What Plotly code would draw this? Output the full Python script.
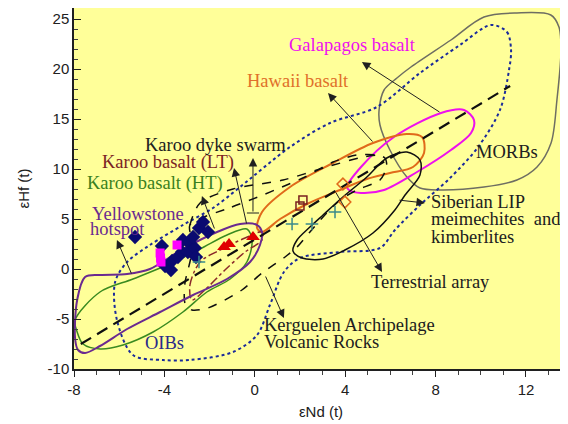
import plotly.graph_objects as go

# ---------------- data (εNd, εHf) ----------------
terr_x = [-7.7, 11.3]
terr_y = [-7.5, 18.3]

oib_x = [10.45, 11.16, 11.34, 11.25, 10.85, 9.88, 8.64, 7.31, 6.20, 5.54, 3.77, 2.0, 1.29, 0.67, 0.1,
         -0.96, -2.87, -4.06, -5.39, -6.1, -6.18, -5.65, -4.64, -3.18, -1.85, -0.65, 1.56, 3.33, 5.4,
         7.31, 9.08, 10.45]
oib_y = [24.4, 23.7, 21.9, 19.9, 15.9, 12.2, 9.1, 6.4, 3.9, 2.1, 1.7, 1.1, -0.3, -3.6, -6.6,
         -8.3, -9.1, -9.1, -8.6, -5.1, -1.3, 0.7, 2.4, 4.4, 6.1, 8.2, 12.2, 14.6, 16.2,
         19.6, 22.4, 24.4]

morb_x = [5.50, 5.72, 6.29, 6.91, 8.68, 10.14, 11.6, 13.1, 13.46, 13.55, 13.37, 13.11, 12.49, 11.6,
          10.14, 8.19, 7.31, 6.73, 5.98, 5.54, 5.50]
morb_y = [15.9, 17.9, 19.1, 20.2, 22.9, 25.2, 25.6, 25.4, 24.2, 21.9, 16.9, 12.6, 10.2, 8.9,
          8.2, 7.9, 8.1, 9.2, 11.9, 14.4, 15.9]

gal_x = [4.08, 4.70, 6.16, 8.24, 9.26, 9.70, 9.57, 8.68, 7.18, 5.72, 4.70, 4.17, 4.08]
gal_y = [8.2, 10.2, 13.2, 15.6, 15.9, 14.9, 13.6, 11.9, 9.7, 7.9, 7.6, 7.9, 8.2]

haw_x = [0.1, 0.32, 1.56, 3.46, 5.23, 6.73, 7.40, 7.49, 7.0, 5.98, 4.96, 3.77, 2.31, 1.12, 0.32, 0.1]
haw_y = [4.1, 5.7, 8.2, 10.6, 12.6, 13.5, 13.2, 11.6, 10.2, 9.6, 9.0, 7.9, 6.5, 5.0, 3.7, 4.1]

sib_x = [5.84, 6.73, 7.31, 7.31, 6.65, 6.2, 5.23, 3.99, 3.02, 2.09, 1.69, 1.87, 2.44, 3.02, 3.9,
         4.96, 5.84]
sib_y = [11.1, 11.7, 10.9, 9.4, 7.4, 5.9, 3.6, 1.9, 1.0, 1.1, 1.8, 2.9, 4.2, 5.4, 7.2,
         9.2, 11.1]

dyke_x = [-2.87, -2.42, -0.96, 1.25, 3.33, 4.79, 5.41]
dyke_y = [4.4, 6.6, 8.0, 8.9, 10.3, 11.2, 11.4]

kerg_x = [-2.87, -1.01, 0.14, 1.20, 2.22, 3.46, 4.52, 5.41, 5.76, 5.84, 5.54, 4.52, 3.77, 3.02,
          2.44, 1.87, 1.34, 0.32, -0.57, -2.07, -2.78, -3.09, -3.09, -2.87, -2.73, -2.87]
kerg_y = [4.4, 6.2, 7.2, 8.2, 9.2, 10.7, 11.4, 11.4, 11.1, 10.2, 8.9, 7.9, 6.9, 5.2,
          3.7, 2.2, 1.2, -0.4, -2.1, -3.9, -4.1, -3.4, -1.4, 0.7, 2.4, 4.4]

ht_x = [-7.95, -6.85, -5.39, -3.88, -2.42, -1.23, -0.35, -0.12, -0.35, -1.09, -2.12, -3.18, -4.5,
        -5.83, -6.85, -7.6, -7.86, -7.95]
ht_y = [-5.1, -2.3, -1.0, 0.4, 2.0, 3.4, 4.0, 2.9, 0.7, -1.0, -2.3, -4.3, -6.3,
        -7.6, -8.0, -7.5, -6.3, -5.1]

lt_x = [-2.78, -2.87, -2.42, -1.54, -0.43, 0.32, 0.32, -0.43, -1.32, -2.21, -2.78]
lt_y = [-3.1, -1.6, 0.7, 1.9, 3.1, 3.7, 2.9, 1.7, -0.1, -2.1, -3.1]

ys_x = [-7.51, -7.86, -7.95, -7.82, -7.51, -6.85, -5.65, -4.19, -2.73, -1.23, -0.21, 0.23, 0.32,
        0.1, -0.65, -1.67, -3.18, -4.64, -5.65, -6.85, -7.51]
ys_y = [-0.8, -3.1, -7.0, -8.1, -8.4, -7.7, -6.0, -4.3, -2.6, -1.0, 0.7, 2.4, 3.7,
        4.4, 4.5, 3.7, 2.0, 0.0, -0.5, -0.6, -0.8]

# sample points
dia_x = [-5.3, -4.11, -3.97, -3.71, -3.66, -3.40, -3.22, -3.18, -2.91, -2.96, -2.65, -2.73, -2.47,
         -2.29, -2.07, -2.6]
dia_y = [3.2, 2.3, 0.3, -0.1, 0.8, 1.2, 1.7, 2.9, 2.6, 1.7, 2.1, 3.2, 4.1,
         4.7, 3.7, 1.2]
sq_x = [-4.19, -4.15, -4.17, -3.44]
sq_y = [1.6, 0.7, 1.1, 2.4]
tri_x = [-1.36, -1.14, -0.08]
tri_y = [2.2, 2.5, 3.2]
osq_x = [2.13, 2.0]
osq_y = [6.9, 6.3]
odia_x = [3.9, 3.99]
odia_y = [8.5, 6.7]
plus_x = [1.65, 2.53, 3.55, -2.47]
plus_y = [4.5, 4.5, 5.7, 0.7]

# arrows: (tail_x, tail_y, head_x, head_y)
arrows = {
    "gal": (8.24, 15.6, 4.74, 20.7),
    "haw": (5.27, 12.6, 3.24, 17.6),
    "dyke": (-0.08, 5.6, -0.08, 11.1),
    "lt": (-0.35, 4.4, -0.92, 10.1),
    "ht": (-1.76, 3.9, -2.34, 7.3),
    "ys": (-5.43, -0.6, -6.1, 2.9),
    "sib": (6.34, 6.9, 7.53, 6.6),
    "terr": (3.55, 7.8, 5.63, -0.3),
    "kerg": (0.45, -0.6, 1.29, -4.9),
}
dyke_bar_x = [-0.35, 0.19]
dyke_bar_y = [5.6, 5.6]

# labels: (text, x_left, y, colour)
labels = [
    ("Galapagos basalt", 1.44, 22.4, "#EE10EE"),
    ("Hawaii basalt", -0.43, 18.8, "#E0702A"),
    ("MORBs", 9.7, 11.7, "#202020"),
    ("Karoo dyke swarm", -4.95, 12.4, "#202020"),
    ("Karoo basalt (LT)", -6.85, 10.7, "#7B2323"),
    ("Karoo basalt (HT)", -7.51, 8.6, "#3A8020"),
    ("Yellowstone", -7.29, 5.5, "#6A2A90"),
    ("hotspot", -7.38, 4.0, "#6A2A90"),
    ("OIBs", -4.94, -7.4, "#2A2A8A"),
    ("Siberian LIP", 7.72, 6.7, "#202020"),
    ("meimechites  and", 7.72, 5.0, "#202020"),
    ("kimberlites", 7.72, 3.2, "#202020"),
    ("Terrestrial array", 5.05, -1.3, "#202020"),
    ("Kerguelen Archipelage", 0.32, -5.6, "#202020"),
    ("Volcanic Rocks", 0.32, -7.3, "#202020"),
]

x_ticks = [-8, -4, 0, 4, 8, 12]
x_ticktext = ["-8", "-4", "0", "4", "8", "12"]
y_ticks = [-10, -5, 0, 5, 10, 15, 20, 25]
y_ticktext = ["-10", "-5", "0", "5", "10", "15", "20", "25"]

SERIF = "Liberation Serif, Times New Roman, DejaVu Serif, serif"
SANS = "Liberation Sans, Arial, sans-serif"

# ---------------- figure ----------------
fig = go.Figure()

def outline(x, y, color, width=1.5, dash="solid", smooth=0.9):
    fig.add_trace(go.Scatter(x=x, y=y, mode="lines",
                             line=dict(color=color, width=width, dash=dash, shape="spline",
                                       smoothing=smooth),
                             hoverinfo="skip", showlegend=False))

outline(morb_x, morb_y, "#6E6E62", 1.5)
outline(oib_x, oib_y, "#1A2A9A", 2, "dot")
outline(gal_x, gal_y, "#EE10EE", 2)
outline(haw_x, haw_y, "#E06A1A", 2)
outline(sib_x, sib_y, "#101010", 1.5)
outline(dyke_x, dyke_y, "#101010", 1.5, "dash")
outline(kerg_x, kerg_y, "#101010", 1.5, "dash", 0.7)
outline(ht_x, ht_y, "#3A8A20", 1.5)
outline(lt_x, lt_y, "#8B2A2A", 1.5, "dashdot")
outline(ys_x, ys_y, "#6A2A90", 2)

fig.add_trace(go.Scatter(x=terr_x, y=terr_y, mode="lines",
                         line=dict(color="#101010", width=2.2, dash="12px,7px"),
                         hoverinfo="skip", showlegend=False))
fig.add_trace(go.Scatter(x=dyke_bar_x, y=dyke_bar_y, mode="lines",
                         line=dict(color="#202020", width=1),
                         hoverinfo="skip", showlegend=False))

fig.add_trace(go.Scatter(x=dia_x, y=dia_y, mode="markers",
                         marker=dict(symbol="diamond", size=11, color="#0A0A70"),
                         showlegend=False))
fig.add_trace(go.Scatter(x=sq_x, y=sq_y, mode="markers",
                         marker=dict(symbol="square", size=9, color="#FF00FF"),
                         showlegend=False))
fig.add_trace(go.Scatter(x=tri_x, y=tri_y, mode="markers",
                         marker=dict(symbol="triangle-up", size=12, color="#E00000"),
                         showlegend=False))
fig.add_trace(go.Scatter(x=osq_x, y=osq_y, mode="markers",
                         marker=dict(symbol="square-open", size=8, color="#7A2020",
                                     line=dict(width=1.5)),
                         showlegend=False))
fig.add_trace(go.Scatter(x=odia_x, y=odia_y, mode="markers",
                         marker=dict(symbol="diamond-open", size=9, color="#E06A1A",
                                     line=dict(width=1.5)),
                         showlegend=False))
fig.add_trace(go.Scatter(x=plus_x, y=plus_y, mode="markers",
                         marker=dict(symbol="cross-thin", size=9, color="#3A8A8A",
                                     line=dict(width=1.5, color="#3A8A8A")),
                         showlegend=False))

for key, (tx, ty, hx, hy) in arrows.items():
    fig.add_annotation(x=hx, y=hy, ax=tx, ay=ty, xref="x", yref="y", axref="x", ayref="y",
                       text="", showarrow=True, arrowhead=2, arrowsize=1.7, arrowwidth=1,
                       arrowcolor="#202020", standoff=0, startstandoff=0)

for text, lx, ly, col in labels:
    fig.add_annotation(x=lx, y=ly, xref="x", yref="y", text=text, showarrow=False,
                       xanchor="left", yanchor="middle",
                       font=dict(family=SERIF, size=18.5, color=col))

# page body has an 8px margin: figure is drawn from (8, 8)
fig.update_layout(
    width=560, height=416,
    margin=dict(l=66, r=0, t=0, b=55, autoexpand=False),
    paper_bgcolor="white", plot_bgcolor="#FFFF99",
    showlegend=False,
    font=dict(family=SANS, size=15, color="#202020"),
)
fig.update_xaxes(range=[-8, 13.86], tickvals=x_ticks, ticktext=x_ticktext,
                 showgrid=False, zeroline=False,
                 showline=True, linecolor="#202020", linewidth=1.5, mirror=True,
                 ticks="outside", ticklen=6, tickcolor="#202020",
                 minor=dict(dtick=1, ticks="outside", ticklen=4, tickcolor="#404040"),
                 title=dict(text="εNd (t)", standoff=10, font=dict(size=15)),
                 tickfont=dict(size=15), automargin=False)
fig.update_yaxes(range=[-10, 26.1], tickvals=y_ticks, ticktext=y_ticktext,
                 showgrid=False, zeroline=False,
                 showline=True, linecolor="#202020", linewidth=1.5,
                 ticks="inside", ticklen=7, tickcolor="#202020",
                 minor=dict(dtick=1, ticks="inside", ticklen=4, tickcolor="#404040"),
                 title=dict(text="εHf (t)", standoff=14, font=dict(size=15)),
                 tickfont=dict(size=15), automargin=False)

fig.write_html("out.html")
